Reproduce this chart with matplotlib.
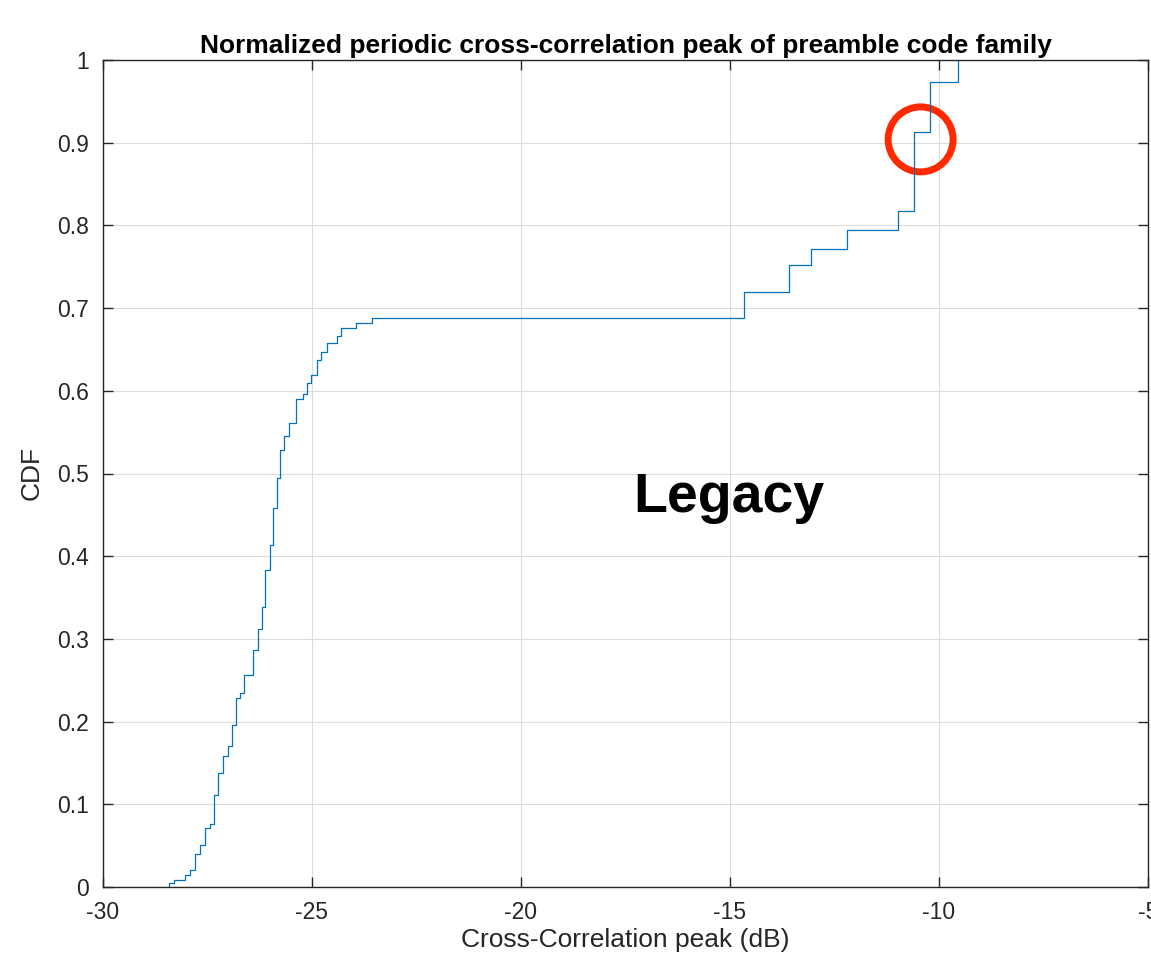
import matplotlib
matplotlib.use("Agg")
import matplotlib.pyplot as plt
from matplotlib.patches import Ellipse
import numpy as np

plt.rcParams['font.family'] = ['Liberation Sans', 'DejaVu Sans']

# Empirical CDF of the normalized periodic cross-correlation peak (dB)
peak_db = [-28.41, -28.29, -28.03, -27.91, -27.79, -27.68, -27.57, -27.45,
           -27.35, -27.24, -27.13, -27.02, -26.91, -26.82, -26.72, -26.62,
           -26.40, -26.30, -26.20, -26.12, -26.01, -25.93, -25.84, -25.76,
           -25.66, -25.54, -25.39, -25.21, -25.11, -25.03, -24.88, -24.79,
           -24.63, -24.40, -24.31, -23.94, -23.56, -14.67, -13.59, -13.07,
           -12.19, -10.97, -10.59, -10.22, -9.55]
cdf_level = [0.005, 0.009, 0.015, 0.020, 0.040, 0.051, 0.071, 0.076,
             0.111, 0.138, 0.158, 0.170, 0.196, 0.229, 0.234, 0.256,
             0.286, 0.312, 0.339, 0.383, 0.414, 0.458, 0.495, 0.529,
             0.545, 0.561, 0.590, 0.596, 0.609, 0.619, 0.637, 0.647,
             0.658, 0.666, 0.676, 0.682, 0.6875, 0.719, 0.752, 0.771,
             0.7945, 0.8176, 0.913, 0.974, 1.0]

x_ticks = [-30, -25, -20, -15, -10, -5]
y_ticks = [0, 0.1, 0.2, 0.3, 0.4, 0.5, 0.6, 0.7, 0.8, 0.9, 1]
y_tick_labels = ['0', '0.1', '0.2', '0.3', '0.4', '0.5', '0.6', '0.7', '0.8', '0.9', '1']

W, H = 1151, 959
fig = plt.figure(figsize=(W / 100, H / 100), dpi=100)
ax = fig.add_axes([103 / W, (H - 887) / H, (1148 - 103) / W, (887 - 60) / H])

xs = [peak_db[0]] + peak_db
ys = [0.0] + cdf_level
ax.step(xs, ys, where='post', color='#0072BD', lw=0.9)

ax.set_xlim(-30, -5)
ax.set_ylim(0, 1)
ax.set_xticks(x_ticks)
ax.set_xticklabels([str(t) for t in x_ticks])
ax.set_yticks(y_ticks)
ax.set_yticklabels(y_tick_labels)
ax.tick_params(direction='in', length=7, width=1.0, labelsize=16.5,
               top=True, right=True, colors='#262626', labelcolor='#262626')
ax.tick_params(axis='x', pad=10)
ax.tick_params(axis='y', pad=10)
ax.grid(True, color='#dcdcdc', lw=0.8)
ax.set_axisbelow(True)
for s in ax.spines.values():
    s.set_color('#262626')
    s.set_linewidth(1.0)

ax.set_title('Normalized periodic cross-correlation peak of preamble code family',
             fontsize=19, fontweight='bold', pad=5)
ax.set_xlabel('Cross-Correlation peak (dB)', fontsize=19, color='#262626', labelpad=3)
ax.set_ylabel('CDF', fontsize=19, color='#262626', labelpad=10)

ax.text(-17.32, 0.4535, 'Legacy', fontsize=40, fontweight='bold', color='black',
        ha='left', va='baseline')

ax.add_patch(Ellipse((-10.44, 0.904), width=65 / 41.8, height=65 / 827,
                     fill=False, edgecolor='#FF2A00', lw=5, clip_on=False))

fig.savefig('out.png', dpi=100)
